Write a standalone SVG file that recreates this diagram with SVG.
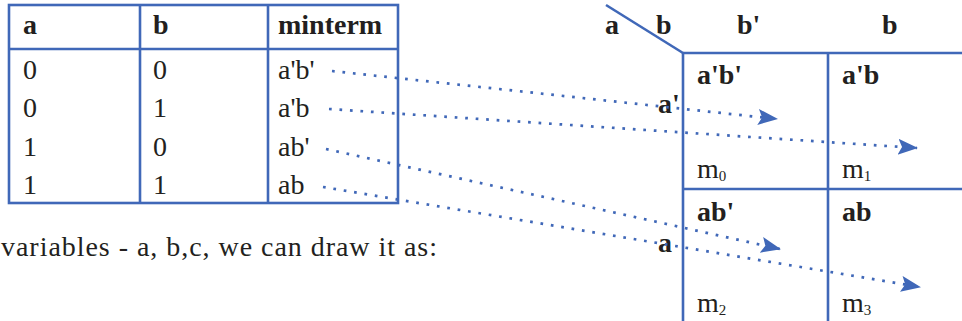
<svg xmlns="http://www.w3.org/2000/svg" width="962" height="321" viewBox="0 0 962 321">
<style>
  .ln{stroke:#4068B8;stroke-width:2.6;fill:none}
  .t{font-family:"Liberation Serif","Times New Roman",serif;font-size:28px;fill:#231f20}
  .b{font-weight:bold}
  .sub{font-size:15px}
  .dot{stroke:#4068B8;stroke-width:2.7;fill:none;stroke-dasharray:2.7 7.8}
</style>
<defs>
  <marker id="ah" markerUnits="userSpaceOnUse" markerWidth="22" markerHeight="18" refX="19" refY="8" orient="auto">
    <path d="M0,0 L20,8 L0,16 L4,8 Z" fill="#4068B8"/>
  </marker>
</defs>
<rect width="962" height="321" fill="#ffffff"/>

<g id="truth-table">
  <rect class="ln" x="9" y="5" width="389" height="198"/>
  <line class="ln" x1="9" y1="49" x2="398" y2="49"/>
  <line class="ln" x1="140" y1="5" x2="140" y2="203"/>
  <line class="ln" x1="268" y1="5" x2="268" y2="203"/>
  <text class="t b" x="23" y="34">a</text>
  <text class="t b" x="153" y="34">b</text>
  <text class="t b" x="278" y="34">minterm</text>
  <text class="t" x="23" y="79">0</text>
  <text class="t" x="153" y="79">0</text>
  <text class="t" x="278" y="79">a'b'</text>
  <text class="t" x="23" y="117">0</text>
  <text class="t" x="153" y="117">1</text>
  <text class="t" x="278" y="117">a'b</text>
  <text class="t" x="23" y="156">1</text>
  <text class="t" x="153" y="156">0</text>
  <text class="t" x="278" y="156">ab'</text>
  <text class="t" x="23" y="194">1</text>
  <text class="t" x="153" y="194">1</text>
  <text class="t" x="278" y="194">ab</text>
</g>

<g id="caption">
  <text class="t" x="1" y="256" textLength="436" lengthAdjust="spacing">variables  -  a, b,c, we can draw it as:</text>
</g>

<g id="kmap">
  <line class="ln" x1="606" y1="5" x2="683" y2="53"/>
  <line class="ln" x1="683" y1="53" x2="962" y2="53"/>
  <line class="ln" x1="683" y1="53" x2="683" y2="321"/>
  <line class="ln" x1="828" y1="53" x2="828" y2="321"/>
  <line class="ln" x1="683" y1="189" x2="962" y2="189"/>
  <text class="t b" x="605" y="34">a</text>
  <text class="t b" x="656" y="34">b</text>
  <text class="t b" x="737" y="34">b'</text>
  <text class="t b" x="882" y="34">b</text>
  <text class="t b" x="658" y="113">a'</text>
  <text class="t b" x="658" y="252">a</text>
</g>

<g id="cell-m0">
  <text class="t b" x="697" y="84">a'b'</text>
  <text class="t" x="697" y="178">m<tspan class="sub" dy="3">0</tspan></text>
</g>
<g id="cell-m1">
  <text class="t b" x="842" y="84">a'b</text>
  <text class="t" x="842" y="178">m<tspan class="sub" dy="3">1</tspan></text>
</g>
<g id="cell-m2">
  <text class="t b" x="697" y="221">ab'</text>
  <text class="t" x="697" y="312">m<tspan class="sub" dy="3">2</tspan></text>
</g>
<g id="cell-m3">
  <text class="t b" x="842" y="221">ab</text>
  <text class="t" x="842" y="312">m<tspan class="sub" dy="3">3</tspan></text>
</g>

<g id="connectors">
  <line class="dot" x1="332" y1="71" x2="777" y2="119" marker-end="url(#ah)"/>
  <line class="dot" x1="329" y1="109" x2="917" y2="148" marker-end="url(#ah)"/>
  <line class="dot" x1="326" y1="149" x2="780" y2="249" marker-end="url(#ah)"/>
  <line class="dot" x1="323" y1="187" x2="920" y2="287" marker-end="url(#ah)"/>
</g>
</svg>
